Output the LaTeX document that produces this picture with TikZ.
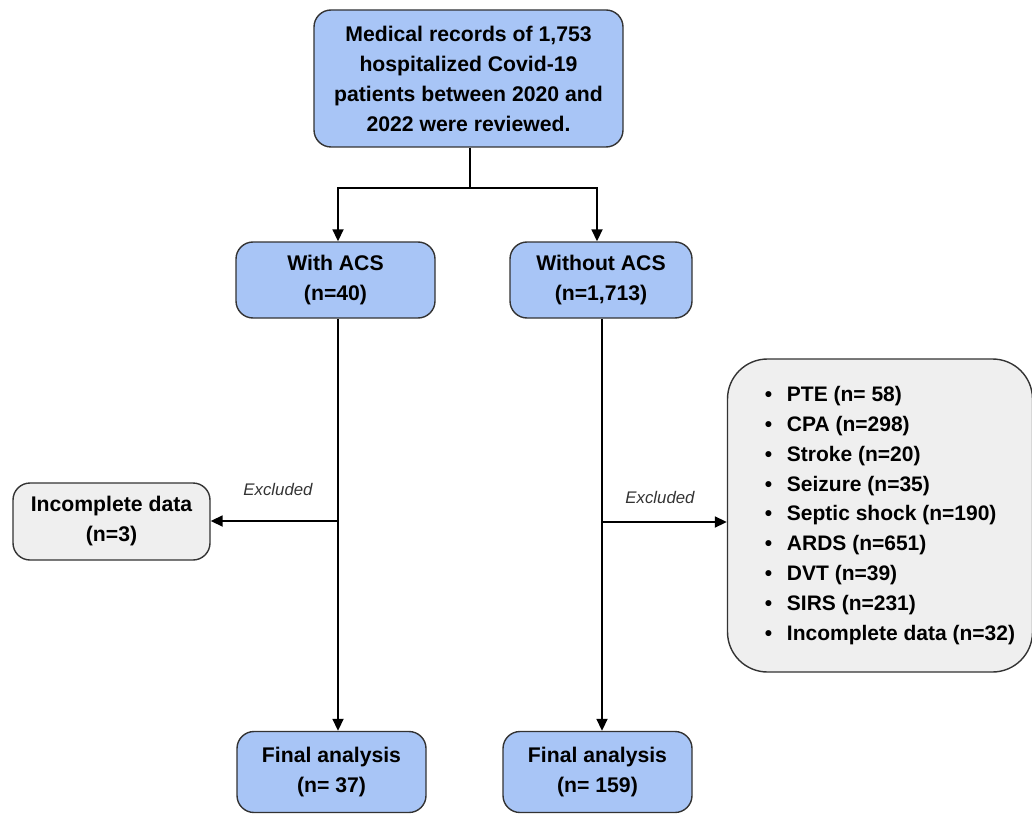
\documentclass[tikz,border=0pt]{standalone}
\usepackage{fontspec}
\setmainfont{Liberation Sans}
\usetikzlibrary{arrows.meta,calc}
\newcommand{\litem}[1]{\hspace*{20pt}•\hspace{0.7em}#1}
\begin{document}
\begin{tikzpicture}[x=1pt,y=1pt,
  bluebox/.style={draw=black!80, line width=1.4pt, fill={rgb,255:red,168;green,197;blue,246}, rounded corners=17pt, align=center, font=\bfseries\fontsize{21.2}{30}\selectfont, inner sep=0pt},
  graybox/.style={draw=black!80, line width=1.4pt, fill={rgb,255:red,239;green,239;blue,239}, rounded corners=17pt, align=center, font=\bfseries\fontsize{21.2}{30}\selectfont, inner sep=0pt},
  conn/.style={line width=1.8pt, black},
  arr/.style={conn, -{Triangle[length=12pt,width=11pt]}},
  exlabel/.style={font=\itshape\fontsize{16.8}{18}\selectfont, text=black!80}
]
\useasboundingbox (0,0) rectangle (1032,-818);
\node[bluebox, minimum width=309, minimum height=137] (top) at (468.5,-78.5)
  {Medical records of 1,753\\hospitalized Covid-19\\patients between 2020 and\\2022 were reviewed.};
\node[bluebox, minimum width=199, minimum height=76] (wa) at (335.5,-280) {With ACS\\(n=40)};
\node[bluebox, minimum width=182, minimum height=76] (woa) at (601,-280) {Without ACS\\(n=1,713)};
\node[graybox, minimum width=197, minimum height=77] (inc) at (111.5,-521.5) {Incomplete data\\(n=3)};
\node[graybox, rounded corners=40pt, minimum width=305, minimum height=313, align=left, font=\bfseries\fontsize{21}{29.8}\selectfont] (list) at (880,-515.5)
  {\litem{PTE (n= 58)}\\\litem{CPA (n=298)}\\\litem{Stroke (n=20)}\\\litem{Seizure (n=35)}\\\litem{Septic shock (n=190)}\\\litem{ARDS (n=651)}\\\litem{DVT (n=39)}\\\litem{SIRS (n=231)}\\\litem{Incomplete data (n=32)}};
\node[bluebox, minimum width=189, minimum height=81] (fa) at (331.5,-772) {Final analysis\\(n= 37)};
\node[bluebox, minimum width=189, minimum height=81] (fb) at (597.5,-772) {Final analysis\\(n= 159)};

\coordinate (split) at (470,-188);
\coordinate (la) at (338,-188);
\coordinate (lb) at (597,-188);
\coordinate (ea) at (338,-521);
\coordinate (eb) at (602,-522);

\draw[conn] (top.south -| split) -- (split);
\draw[arr] (split) -- (la) -- (la |- wa.north);
\draw[arr] (split) -- (lb) -- (lb |- woa.north);
\draw[arr] (wa.south -| ea) -- (ea |- fa.north);
\draw[arr] (woa.south -| eb) -- (eb |- fb.north);
\draw[arr] (ea) -- (inc.east |- ea);
\draw[arr] (eb) -- (list.west |- eb);
\node[exlabel] at (278,-489) {Excluded};
\node[exlabel] at (660,-497) {Excluded};
\end{tikzpicture}
\end{document}
